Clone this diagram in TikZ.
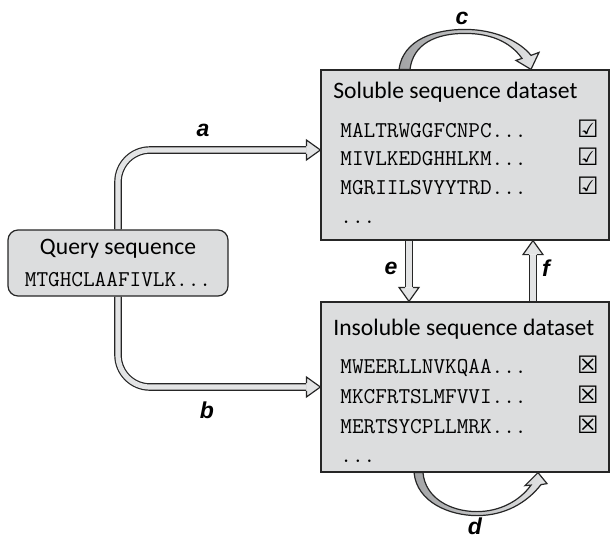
\documentclass[tikz,border=0pt]{standalone}
\usepackage{fontspec}
\setmainfont{Carlito}
\newfontfamily\labelfont{Liberation Sans}
\newfontfamily\boxfont{DejaVu Sans}
\usepackage{tikz}
\usetikzlibrary{positioning,backgrounds}
\definecolor{boxgray}{HTML}{DCDDDE}
\definecolor{shaftgray}{HTML}{E3E4E5}
\definecolor{bandgray}{HTML}{A3A4A6}
\definecolor{edgegray}{HTML}{262626}

% hollow arrow head: #1 tip point, #2 direction (degrees)
\newcommand{\hollowtip}[2]{%
  \begin{scope}[shift={#1}, rotate=#2]
    \fill[shaftgray] (0,0) -- (-14,10) -- (-14,-10) -- cycle;
    \draw[edgegray, line width=0.6pt, line join=miter]
      (-14,3.8) -- (-14,10) -- (0,0) -- (-14,-10) -- (-14,-3.8);
  \end{scope}}

\begin{document}
\begin{tikzpicture}[x=0.5pt,y=-0.5pt,
  dataset/.style={draw=edgegray, line width=0.6pt, fill=boxgray,
    minimum width=144pt, minimum height=85pt, inner sep=0pt},
  querybox/.style={draw=edgegray, line width=0.6pt, fill=boxgray,
    rounded corners=5pt, minimum width=110pt, minimum height=33pt,
    align=center, inner sep=0pt, font=\fontsize{11.8}{16}\selectfont},
  title/.style={font=\fontsize{11.8}{14}\selectfont, inner sep=0pt},
  seqtext/.style={font=\ttfamily\fontsize{11.3}{13}\selectfont, inner sep=0pt},
  tickbox/.style={font=\boxfont\fontsize{12}{14}\selectfont, inner sep=0pt},
  arclabel/.style={font=\labelfont\bfseries\itshape\fontsize{11.5}{13}\selectfont},
  shaft/.style={draw=edgegray, line width=0.6pt, double=shaftgray,
    double distance=2.6pt},
  bandarrow/.style={draw=edgegray, line width=0.6pt, line join=miter,
    left color=bandgray, right color=shaftgray}]
\useasboundingbox (0,0) rectangle (611,537);

% the two datasets
\node[dataset] (sol) at (465,155) {};
\node[dataset] (ins) at (465,387) {};
\node[title, anchor=base west] (soltitle) at (333,98) {Soluble sequence dataset};
\node[title, anchor=base west] (institle) at (333,335) {Insoluble sequence dataset};
\foreach \res/\y [count=\i] in {MALTRWGGFCNPC/137, MIVLKEDGHHLKM/165, MGRIILSVYYTRD/194} {
  \node[seqtext, anchor=base west] (solseq\i) at (340,\y) {\res...};
  \node[tickbox, anchor=base] (soltick\i) at (588,\y) {☑};
}
\node[seqtext, anchor=base west] (soldots) at (340,223) {...};
\foreach \res/\y [count=\i] in {MWEERLLNVKQAA/373, MKCFRTSLMFVVI/403, MERTSYCPLLMRK/433} {
  \node[seqtext, anchor=base west] (insseq\i) at (340,\y) {\res...};
  \node[tickbox, anchor=base] (instick\i) at (588,\y) {☒};
}
\node[seqtext, anchor=base west] (insdots) at (340,462) {...};

% query
\node[querybox] (query) at (118,263) {Query sequence\\{\ttfamily\fontsize{11.3}{13}\selectfont MTGHCLAAFIVLK...}};

% arrows
\begin{scope}[on background layer]
\coordinate (atip) at ([yshift=2.5pt]sol.west);
\coordinate (btip) at (ins.west);
\draw[shaft, rounded corners=16pt] (query.north) |- ([xshift=-7pt]atip);
\hollowtip{(atip)}{0}
\draw[shaft, rounded corners=16pt] (query.south) |- ([xshift=-7pt]btip);
\hollowtip{(btip)}{0}
\coordinate (etip) at ([xshift=-28pt]ins.north);
\draw[shaft] ([xshift=-28pt]sol.south) -- ([yshift=7pt]etip);
\hollowtip{(etip)}{-90}
\coordinate (ftip) at ([xshift=34pt]sol.south);
\draw[shaft] ([xshift=34pt]ins.north) -- ([yshift=-7pt]ftip);
\hollowtip{(ftip)}{90}
\end{scope}

% loop over the soluble set
\begin{scope}[shift={(sol.north)}]
\draw[bandarrow] (-66,0) .. controls (-62,-30) and (-30,-40) .. (0,-40)
  .. controls (30,-40) and (55,-28) .. (66,-14) -- (74,-17) -- (66,0)
  -- (51,-9) -- (57,-11) .. controls (45,-28) and (25,-36) .. (0,-36)
  .. controls (-30,-36) and (-52,-25) .. (-55,0) -- cycle;
\end{scope}
% loop under the insoluble set
\begin{scope}[shift={(ins.south)}]
\draw[bandarrow] (-51,0) .. controls (-48,30) and (-15,43) .. (12,43)
  .. controls (40,43) and (62,30) .. (76,12) -- (82,11) -- (73,0)
  -- (60,13) -- (66,12.5) .. controls (55,28) and (35,39) .. (12,39)
  .. controls (-15,39) and (-40,25) .. (-42,0) -- cycle;
\end{scope}

\node[arclabel] (laba) at (203,130) {a};
\node[arclabel] (labb) at (207,410) {b};
\node[arclabel] (labc) at (462,18) {c};
\node[arclabel] (labd) at (475,526) {d};
\node[arclabel] (labe) at (391,268) {e};
\node[arclabel] (labf) at (546,268) {f};
\end{tikzpicture}
\end{document}
